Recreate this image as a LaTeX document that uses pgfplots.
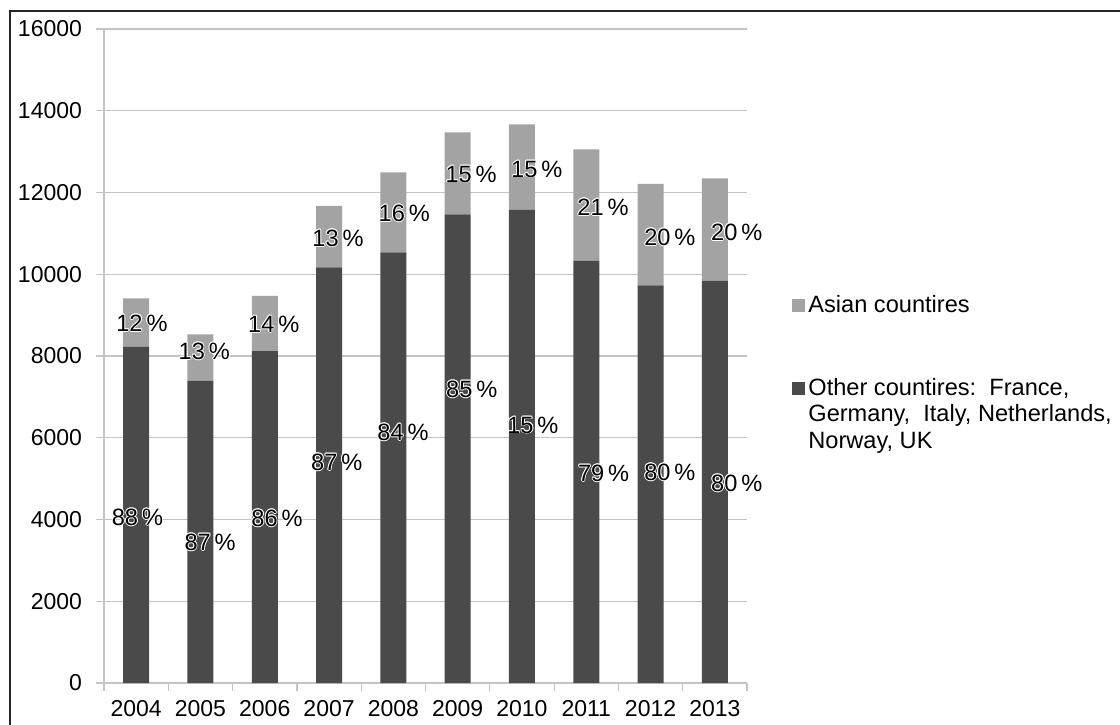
\documentclass[border=0pt]{standalone}
\usepackage{fontspec}
\setmainfont{Liberation Sans}
\usepackage{pgfplots}
\pgfplotsset{compat=1.18}
\definecolor{darkbar}{HTML}{4A4A4A}
\definecolor{lightbar}{HTML}{A3A3A3}
\definecolor{gridgray}{HTML}{C4C4C4}
\tikzset{pctlabel/.style={font=\fontsize{11.8}{13}\selectfont, inner sep=0pt},
  lg/.style={font=\fontsize{11.8}{13}\selectfont, inner sep=0pt, anchor=base west}}
% data label with a thin white halo: white copies first, black text on top
\newcommand{\plab}[2]{%
  \foreach \dx/\dy in {0.45/0,-0.45/0,0/0.45,0/-0.45,0.32/0.32,-0.32/0.32,0.32/-0.32,-0.32/-0.32}
    {\node[pctlabel, text=white] at ([shift={(\dx pt,\dy pt)}]#1) {#2\,\%};}
  \node[pctlabel, text=black] at (#1) {#2\,\%};}

\begin{document}
\begin{tikzpicture}
\useasboundingbox (0pt,0pt) rectangle (560pt,362pt);
% outer frame (only left and top edges are visible)
\draw[line width=0.8pt, black!85] (5pt,-2pt) -- (5pt,356.5pt) -- (562pt,356.5pt);
\begin{axis}[
  at={(52pt,20.5pt)}, anchor=south west,
  scale only axis,
  width=321.5pt, height=327pt,
  ybar stacked,
  bar width=13pt,
  xmin=-0.5, xmax=9.5,
  ymin=0, ymax=16000,
  ytick={0,2000,...,16000},
  xtick={-0.5,0.5,...,9.5},
  xticklabels={},
  extra x ticks={0,1,...,9},
  extra x tick labels={2004,2005,2006,2007,2008,2009,2010,2011,2012,2013},
  extra x tick style={major tick length=0pt, grid=none,
    tick label style={yshift=-5pt}},
  axis x line*=bottom, axis y line*=left,
  axis line style={gridgray, line width=0.6pt},
  tick style={gridgray, line width=0.6pt},
  tick align=outside,
  major tick length=4pt,
  ymajorgrids,
  grid style={gridgray, line width=0.6pt},
  scaled y ticks=false,
  /pgf/number format/assume math mode=true,
  yticklabel={\pgfmathprintnumber[fixed,precision=0,1000 sep={}]{\tick}},
  tick label style={font=\fontsize{11.5}{13}\selectfont, black},
  yticklabel style={xshift=-3.5pt},
]
\addplot[fill=darkbar, draw=none] coordinates {
  (0,8228) (1,7396) (2,8122) (3,10170) (4,10537)
  (5,11466) (6,11572) (7,10332) (8,9730) (9,9843)};
\addplot[fill=lightbar, draw=none] coordinates {
  (0,1182) (1,1134) (2,1346) (3,1500) (4,1957)
  (5,2007) (6,2096) (7,2725) (8,2478) (9,2504)};

% where the data labels sit (upper = Asian share, lower = other share)
\coordinate (u0) at (axis cs:0.09,8807);
\coordinate (u1) at (axis cs:1.06,8122);
\coordinate (u2) at (axis cs:2.14,8783);
\coordinate (u3) at (axis cs:3.14,10887);
\coordinate (u4) at (axis cs:4.17,11498);
\coordinate (u5) at (axis cs:5.21,12453);
\coordinate (u6) at (axis cs:6.23,12575);
\coordinate (u7) at (axis cs:7.26,11645);
\coordinate (u8) at (axis cs:8.30,10911);
\coordinate (u9) at (axis cs:9.34,11034);
\coordinate (d0) at (axis cs:0.02,4061);
\coordinate (d1) at (axis cs:1.15,3450);
\coordinate (d2) at (axis cs:2.19,4037);
\coordinate (d3) at (axis cs:3.12,5407);
\coordinate (d4) at (axis cs:4.15,6141);
\coordinate (d5) at (axis cs:5.22,7193);
\coordinate (d6) at (axis cs:6.17,6312);
\coordinate (d7) at (axis cs:7.27,5138);
\coordinate (d8) at (axis cs:8.30,5162);
\coordinate (d9) at (axis cs:9.34,4893);
\end{axis}
% data labels (as printed in the source, incl. its 2010 label)
\plab{u0}{12}\plab{u1}{13}\plab{u2}{14}\plab{u3}{13}\plab{u4}{16}
\plab{u5}{15}\plab{u6}{15}\plab{u7}{21}\plab{u8}{20}\plab{u9}{20}
\plab{d0}{88}\plab{d1}{87}\plab{d2}{86}\plab{d3}{87}\plab{d4}{84}
\plab{d5}{85}\plab{d6}{15}\plab{d7}{79}\plab{d8}{80}\plab{d9}{80}
% legend
\fill[lightbar] (396pt,206pt) rectangle (402.5pt,212.5pt);
\node[lg] at (404pt,205.5pt) {Asian countires};
\fill[darkbar] (396pt,164.5pt) rectangle (402.5pt,171pt);
\node[lg] at (404pt,164pt) {Other countires:\ \ France,};
\node[lg] at (404pt,151pt) {Germany,\ \ Italy, Netherlands,};
\node[lg] at (404pt,138pt) {Norway, UK};
\end{tikzpicture}
\end{document}
